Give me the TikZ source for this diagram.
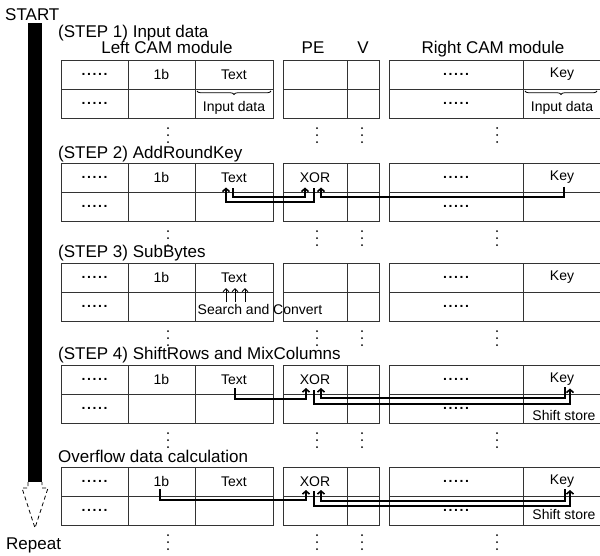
\documentclass[tikz,border=0pt]{standalone}
\usepackage{fontspec}
\setmainfont{Liberation Sans}
\usetikzlibrary{arrows.meta,decorations.pathreplacing,calc}
\newcommand\fivedots{\makebox[26pt]{\bfseries.\hfill.\hfill.\hfill.\hfill.}}
\begin{document}
\begin{tikzpicture}[x=1pt,y=-1pt,
 grid/.style={line width=0.9pt, draw=black!80},
 cell/.style={font=\fontsize{14}{14}\selectfont, inner sep=0pt},
 head/.style={font=\fontsize{17}{17}\selectfont, inner sep=0pt, anchor=base west},
 conn/.style={line width=1.6pt, -{Straight Barb[length=3pt,width=7pt]}},
 thinarr/.style={line width=0.9pt, -{Straight Barb[length=3pt,width=6pt]}},
 bracestyle/.style={line width=0.8pt, decorate, decoration={brace, mirror, amplitude=3.5pt}},
]
\useasboundingbox (0,0) rectangle (600,555);

% START / Repeat and the progress bar
\node[head] (start) at (5,20) {START};
\node[head] (repeat) at (6,549) {Repeat};
\fill (28,23) rectangle (42,482);
\draw[line width=0.8pt, dash pattern=on 4pt off 3pt]
  (28,482) -- (28,488) -- (22,488) -- (35,528) -- (48,488) -- (42,488) -- (42,482);

% step labels and headers
\node[head] (s1) at (58,37) {(STEP 1) Input data};
\node[head, anchor=base] (lcam) at (167,53) {Left CAM module};
\node[head, anchor=base] (pe) at (313,53) {PE};
\node[head, anchor=base] (v) at (363,53) {V};
\node[head, anchor=base] (rcam) at (493,53) {Right CAM module};
\node[head] (s2) at (58,158) {(STEP 2) AddRoundKey};
\node[head] (s3) at (58,257) {(STEP 3) SubBytes};
\node[head] (s4) at (58,359) {(STEP 4) ShiftRows and MixColumns};
\node[head] (s5) at (58,462) {Overflow data calculation};

% tables
\foreach \t/\i in {60/1,163/2,263/3,365/4,467/5} {
  \draw[grid] (61,\t) rectangle (273,\t+58);
  \draw[grid] (61,\t+29) -- (273,\t+29) (128,\t) -- (128,\t+58) (195,\t) -- (195,\t+58);
  \draw[grid] (283,\t) rectangle (379,\t+58);
  \draw[grid] (283,\t+29) -- (379,\t+29) (347,\t) -- (347,\t+58);
  \draw[grid] (600,\t) -- (389,\t) -- (389,\t+58) -- (600,\t+58);
  \draw[grid] (389,\t+29) -- (600,\t+29) (523,\t) -- (523,\t+58);
  \node[cell] (la\i) at (94.5,\t+14.5) {\fivedots};
  \node[cell] (lb\i) at (94.5,\t+43.5) {\fivedots};
  \node[cell] (one\i) at (161.5,\t+14.5) {1b};
  \node[cell] (txt\i) at (234,\t+14.5) {Text};
  \node[cell] (ra\i) at (456,\t+14.5) {\fivedots};
  \node[cell] (rb\i) at (456,\t+43.5) {\fivedots};
  \node[cell] (key\i) at (562,\t+14.5) {Key};
  \foreach \x in {168,317,362,497} {
    \fill (\x,\t+68) circle (1pt) (\x,\t+75) circle (1pt) (\x,\t+82) circle (1pt);
  }
}

% STEP 1: input data
\draw[bracestyle] (197,91) -- (271,91);
\node[cell] (in1) at (234,108) {Input data};
\draw[bracestyle] (525,91) -- (597,91);
\node[cell] (in2) at (562,108) {Input data};

% STEP 2: AddRoundKey
\node[cell] (xor2) at (315,177.5) {XOR};
\draw[conn] ($(txt2)+(-1,10.5)$) -- ++(0,9) -| ($(xor2)+(-10,10)$);
\draw[conn] ($(xor2)+(-1,10.5)$) -- ++(0,14) -| ($(txt2)+(-8,10)$);
\draw[conn] ($(key2)+(2,9)$) -- ++(0,10.5) -| ($(xor2)+(6,10)$);

% STEP 3: SubBytes
\node[cell] (sc) at (260,309) {Search and Convert};
\foreach \dx in {-8,1,11} {
  \draw[thinarr] ($(txt3)+(\dx,24.5)$) -- ($(txt3)+(\dx,10.5)$);
}

% STEP 4: ShiftRows and MixColumns
\node[cell] (xor4) at (315,379.5) {XOR};
\node[cell] (sh4) at (564,415) {Shift store};
\draw[conn] ($(txt4)+(1,8.5)$) -- ++(0,11) -| ($(xor4)+(-9,8.5)$);
\draw[conn] ($(key4)+(3,7.5)$) -- ++(0,11) -| ($(xor4)+(6,8.5)$);
\draw[conn] ($(xor4)+(-1,10.5)$) -- ++(0,14) -| ($(key4)+(8,9)$);

% Overflow data calculation
\node[cell] (xor5) at (315,481.5) {XOR};
\node[cell] (sh5) at (564,514) {Shift store};
\draw[conn] ($(one5)+(-1.5,7.5)$) -- ++(0,11) -| ($(xor5)+(-9,8.5)$);
\draw[conn] ($(key5)+(3,7.5)$) -- ++(0,12) -| ($(xor5)+(6,8.5)$);
\draw[conn] ($(xor5)+(-1,9.5)$) -- ++(0,15) -| ($(key5)+(8,8.5)$);
\end{tikzpicture}
\end{document}
